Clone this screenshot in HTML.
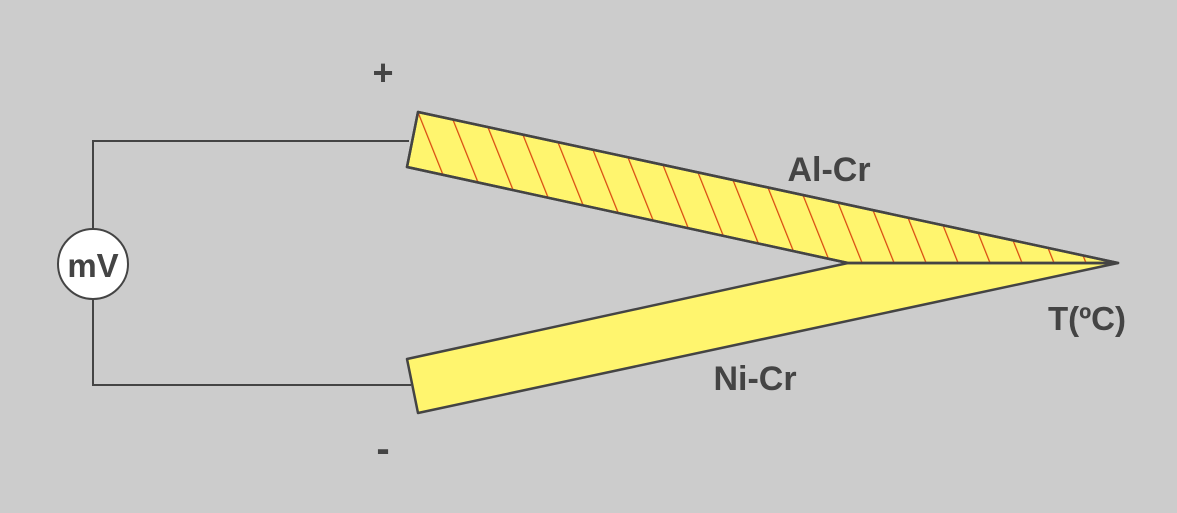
<!DOCTYPE html>
<html><head><style>
html,body{margin:0;padding:0;background:#cccccc;}
svg{display:block;}
text{font-family:"Liberation Sans",sans-serif;font-weight:bold;fill:#444;}
</style></head><body>
<svg width="1177" height="513" viewBox="0 0 1177 513" xmlns="http://www.w3.org/2000/svg">
<defs>
<pattern id="h" patternUnits="userSpaceOnUse" width="29.7" height="100" patternTransform="translate(418,114) rotate(-21.8)">
<line x1="0" y1="-10" x2="0" y2="110" stroke="#d9480f" stroke-width="2.5"/>
</pattern>
</defs>
<rect width="1177" height="513" fill="#cccccc"/>
<polyline points="93,229 93,141 409,141" fill="none" stroke="#444" stroke-width="2"/>
<polyline points="93,299 93,385 411,385" fill="none" stroke="#444" stroke-width="2"/>
<circle cx="93" cy="264" r="35" fill="#fff" stroke="#444" stroke-width="2"/>
<text x="93" y="277" font-size="33" text-anchor="middle">mV</text>
<polygon points="407,359 848,263 1118,263 418,413" fill="#fff56e" stroke="#444" stroke-width="2.5" stroke-linejoin="round"/>
<polygon points="418,112 1118,263 848,263 407,167" fill="#fff56e" stroke="#444" stroke-width="2.5" stroke-linejoin="round"/>
<polygon points="418,112 1118,263 848,263 407,167" fill="url(#h)"/>
<polygon points="418,112 1118,263 848,263 407,167" fill="none" stroke="#444" stroke-width="2.5" stroke-linejoin="round"/>
<text x="383" y="85" font-size="36" text-anchor="middle">+</text>
<text x="383" y="462" font-size="40" text-anchor="middle">-</text>
<text x="829" y="181" font-size="34" text-anchor="middle">Al-Cr</text>
<text x="755" y="390" font-size="34" text-anchor="middle">Ni-Cr</text>
<text x="1087" y="330" font-size="33" text-anchor="middle">T(ºC)</text>
</svg>
</body></html>
